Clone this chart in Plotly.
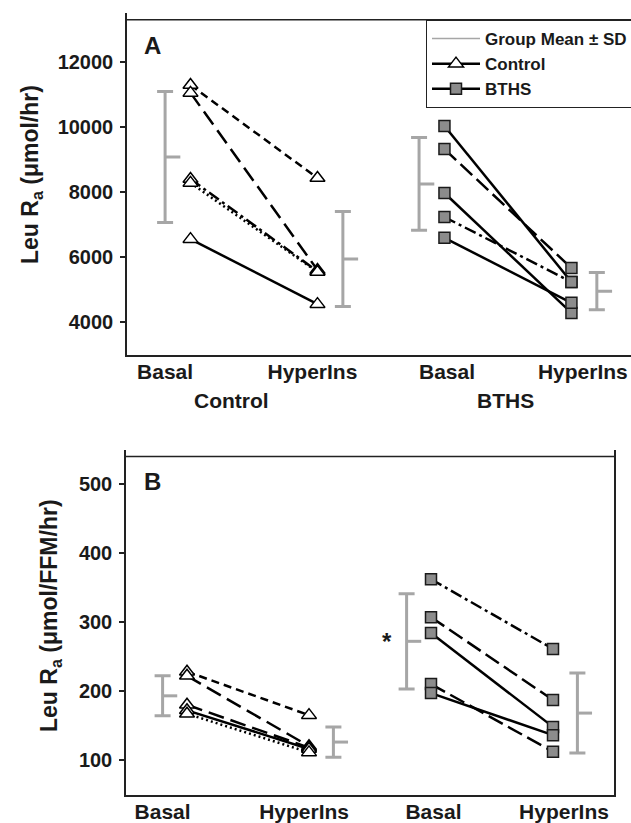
import plotly.graph_objects as go

# ---------------- data ----------------
x_labels = ["Basal", "HyperIns", "Basal", "HyperIns"]
x_label_pos = [0.80, 1.96, 3.02, 4.09]
group_labels = ["Control", "BTHS"]
group_label_pos = [1.32, 3.48]
x_basal_ctrl, x_hyper_ctrl, x_basal_bths, x_hyper_bths = 1, 2, 3, 4

# Panel A: Leu Ra (umol/hr)
ctrl_basal_A = [11290, 11050, 8400, 8280, 6550]
ctrl_hyper_A = [8430, 5600, 5560, 5540, 4550]
ctrl_dash_A = ["8px,5px", "16px,7px", "12px,4px,3px,4px", "2px,3px", "solid"]

bths_basal_A = [10030, 9320, 7970, 7230, 6590]
bths_hyper_A = [5230, 5660, 4280, 5230, 4590]
bths_dash_A = ["solid", "16px,6px", "solid", "12px,4px,3px,4px", "solid"]

sd_pos = [0.8, 2.2, 2.8, 4.2]
mean_A = [9080, 5940, 8250, 4950]
sd_A = [2015, 1460, 1430, 570]

# Panel B: Leu Ra (umol/FFM/hr)
ctrl_basal_B = [228, 222, 180, 172, 167]
ctrl_hyper_B = [165, 120, 118, 116, 111]
ctrl_dash_B = ["8px,5px", "16px,7px", "16px,7px", "solid", "2px,3px"]

bths_basal_B = [362, 307, 284, 210, 197]
bths_hyper_B = [261, 187, 148, 112, 136]
bths_dash_B = ["12px,4px,3px,4px", "16px,6px", "solid", "16px,6px", "solid"]

mean_B = [193, 126, 272, 168]
sd_B = [29, 22, 69, 58]

yticks_A = [4000, 6000, 8000, 10000, 12000]
yticks_B = [100, 200, 300, 400, 500]

# ---------------- style ----------------
FONT = "Liberation Sans, Arial, sans-serif"
GRAY = "#a6a6a6"
AX = "#222222"
W, H = 631, 823
TRI = dict(symbol="triangle-up", size=13, color="white", line=dict(color="black", width=1.5))
SQ = dict(symbol="square", size=11, color="#8c8c8c", line=dict(color="#1a1a1a", width=1.5))

fig = go.Figure()


def add_subjects(xa, ya, x0, x1, basal, hyper, dashes, marker):
    for b, h, d in zip(basal, hyper, dashes):
        fig.add_trace(go.Scatter(
            x=[x0, x1], y=[b, h], mode="lines+markers", xaxis=xa, yaxis=ya,
            line=dict(color="black", width=2.5, dash=d), marker=marker,
            showlegend=False, hoverinfo="skip"))


def add_sd(xa, ya, means, sds):
    fig.add_trace(go.Scatter(
        x=sd_pos, y=means, mode="markers", xaxis=xa, yaxis=ya,
        marker=dict(size=1, color="rgba(0,0,0,0)"),
        error_y=dict(type="data", array=sds, color=GRAY, thickness=3, width=8),
        showlegend=False, hoverinfo="skip"))
    tx, ty = [], []
    for p, m in zip(sd_pos, means):
        tx += [p, p + 0.12, None]
        ty += [m, m, None]
    fig.add_trace(go.Scatter(x=tx, y=ty, mode="lines", xaxis=xa, yaxis=ya,
                             line=dict(color=GRAY, width=3),
                             showlegend=False, hoverinfo="skip"))


# panel A
add_sd("x", "y", mean_A, sd_A)
add_subjects("x", "y", x_basal_ctrl, x_hyper_ctrl, ctrl_basal_A, ctrl_hyper_A, ctrl_dash_A, TRI)
add_subjects("x", "y", x_basal_bths, x_hyper_bths, bths_basal_A, bths_hyper_A, bths_dash_A, SQ)
# panel B
add_sd("x2", "y2", mean_B, sd_B)
add_subjects("x2", "y2", x_basal_ctrl, x_hyper_ctrl, ctrl_basal_B, ctrl_hyper_B, ctrl_dash_B, TRI)
add_subjects("x2", "y2", x_basal_bths, x_hyper_bths, bths_basal_B, bths_hyper_B, bths_dash_B, SQ)

# legend entries
fig.add_trace(go.Scatter(x=[None], y=[None], mode="lines", name="Group Mean ± SD",
                         line=dict(color=GRAY, width=1.5)))
fig.add_trace(go.Scatter(x=[None], y=[None], mode="lines+markers", name="Control",
                         line=dict(color="black", width=2.5), marker=TRI))
fig.add_trace(go.Scatter(x=[None], y=[None], mode="lines+markers", name="BTHS",
                         line=dict(color="black", width=2.5), marker=SQ))

tickfont_x = dict(family=FONT, size=21, color="#1a1a1a", weight="bold")
tickfont_y = dict(family=FONT, size=20, color="#1a1a1a", weight="bold")

xcommon = dict(tickmode="array", tickvals=x_label_pos, ticktext=x_labels, ticks="",
               showline=True, linecolor=AX, linewidth=1.5, showgrid=False, zeroline=False,
               tickfont=tickfont_x, automargin=False, ticklabeloverflow="allow",
               ticklabelstandoff=-2)
ycommon = dict(tickmode="array", ticks="outside", ticklen=5, tickwidth=1.5, tickcolor=AX,
               showline=True, linecolor=AX, linewidth=1.5, showgrid=False, zeroline=False,
               tickfont=tickfont_y, ticklabelstandoff=3, automargin=False)

xA0, xA1 = 127 / W, 1.0
xB0, xB1 = 126 / W, 614 / W

fig.update_layout(
    width=W, height=H, margin=dict(l=0, r=0, t=0, b=0, autoexpand=False),
    paper_bgcolor="white", plot_bgcolor="white",
    font=dict(family=FONT, color="#1a1a1a"),
    xaxis=dict(domain=[xA0, xA1], range=[0.5, 4.469], anchor="y", **xcommon),
    yaxis=dict(domain=[(H - 354.5) / H, (H - 13.25) / H], range=[3000, 13500],
               tickvals=yticks_A, ticktext=[str(v) for v in yticks_A],
               anchor="x", mirror=False, **ycommon),
    xaxis2=dict(domain=[xB0, xB1], range=[0.5, 4.5], anchor="y2", **xcommon),
    yaxis2=dict(domain=[(H - 794.5) / H, (H - 449.5) / H], range=[50, 550],
                tickvals=yticks_B, ticktext=[str(v) for v in yticks_B],
                anchor="x2", mirror=True, **ycommon),
    legend=dict(x=426 / W, y=(H - 20) / H, xanchor="left", yanchor="top",
                bordercolor=AX, borderwidth=1, bgcolor="white",
                font=dict(family=FONT, size=17, weight="bold", color="#1a1a1a"),
                tracegroupgap=0, itemwidth=48),
    shapes=[
        dict(type="line", xref="paper", yref="y", x0=xA0, x1=xA1, y0=13300, y1=13300,
             line=dict(color=AX, width=1.5), layer="above"),
        dict(type="line", xref="paper", yref="y2", x0=xB0, x1=xB1, y0=540, y1=540,
             line=dict(color=AX, width=1.5), layer="above"),
    ],
)

ann = []
ann.append(dict(text="<b>A</b>", xref="paper", yref="paper", x=142 / W, y=(H - 46) / H,
                xanchor="left", yanchor="middle", showarrow=False,
                font=dict(family=FONT, size=24, color="#1a1a1a")))
ann.append(dict(text="<b>B</b>", xref="paper", yref="paper", x=142 / W, y=(H - 482) / H,
                xanchor="left", yanchor="middle", showarrow=False,
                font=dict(family=FONT, size=24, color="#1a1a1a")))
ann.append(dict(text="<b>Leu R<sub>a</sub> (μmol/hr)</b>", xref="paper", yref="paper",
                x=31 / W, y=(H - 175) / H, xanchor="center", yanchor="middle",
                textangle=-90, showarrow=False,
                font=dict(family=FONT, size=23, color="#1a1a1a")))
ann.append(dict(text="<b>Leu R<sub>a</sub> (μmol/FFM/hr)</b>", xref="paper", yref="paper",
                x=50 / W, y=(H - 616) / H, xanchor="center", yanchor="middle",
                textangle=-90, showarrow=False,
                font=dict(family=FONT, size=23, color="#1a1a1a")))
for g, p in zip(group_labels, group_label_pos):
    ann.append(dict(text="<b>%s</b>" % g, xref="x", yref="paper", x=p, y=(H - 400) / H,
                    xanchor="center", yanchor="middle", showarrow=False,
                    font=dict(family=FONT, size=21, color="#1a1a1a")))
ann.append(dict(text="<b>*</b>", xref="x2", yref="y2", x=2.64, y=mean_B[2],
                xanchor="center", yanchor="middle", showarrow=False,
                font=dict(family=FONT, size=24, color="#1a1a1a")))
fig.update_layout(annotations=ann)

fig.write_html("out.html", config={"displayModeBar": False},
               post_script="document.body.style.margin='0px';")
